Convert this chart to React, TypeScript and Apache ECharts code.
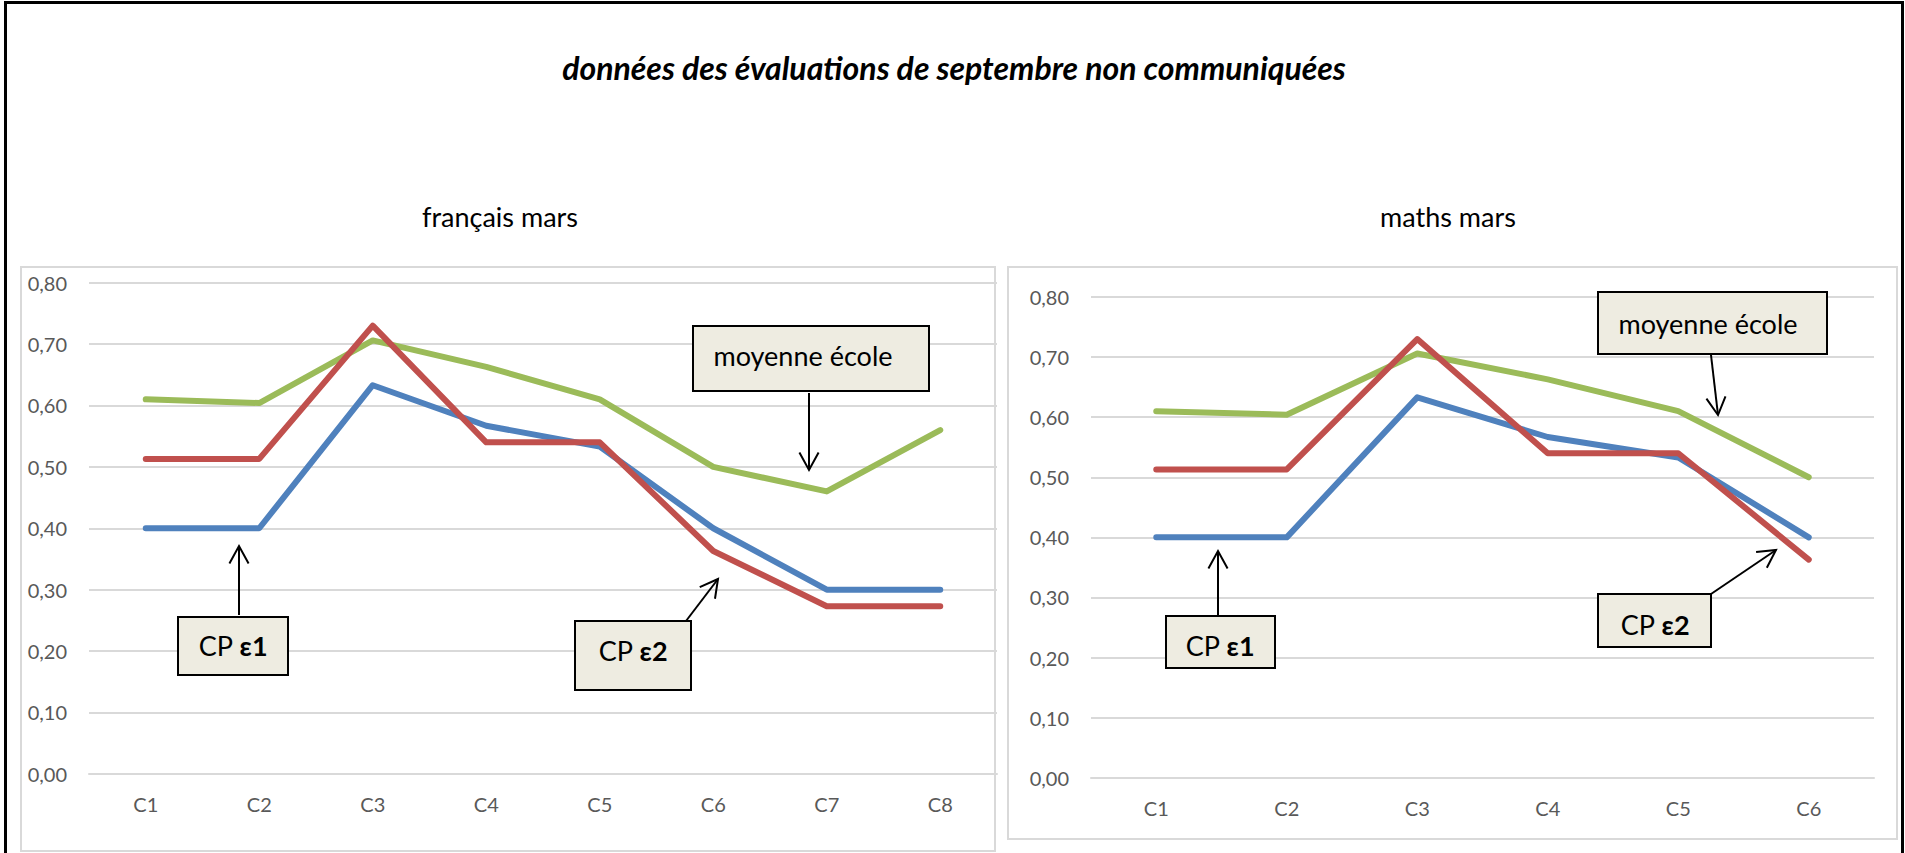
import React, { useEffect, useRef } from "react";
import * as echarts from "echarts";

const titleText = "données des évaluations de septembre non communiquées";
const subtitleFr = "français mars";
const subtitleMa = "maths mars";

const categoriesFr = ["C1", "C2", "C3", "C4", "C5", "C6", "C7", "C8"];
const frBlue = [0.4, 0.4, 0.633, 0.567, 0.533, 0.4, 0.3, 0.3];
const frRed = [0.513, 0.513, 0.73, 0.54, 0.54, 0.363, 0.273, 0.273];
const frGreen = [0.61, 0.604, 0.706, 0.663, 0.61, 0.5, 0.46, 0.56];

const categoriesMa = ["C1", "C2", "C3", "C4", "C5", "C6"];
const maBlue = [0.4, 0.4, 0.633, 0.567, 0.533, 0.4];
const maRed = [0.513, 0.513, 0.73, 0.54, 0.54, 0.363];
const maGreen = [0.61, 0.604, 0.706, 0.663, 0.61, 0.5];

const seriesNames = ["CP ε1", "CP ε2", "moyenne école"];
const colors = ["#4F81BD", "#C0504D", "#9BBB59"];

const FONT = "Lato, 'Open Sans', sans-serif";

function arrow(x1: number, y1: number, x2: number, y2: number) {
  const ang = Math.atan2(y2 - y1, x2 - x1);
  const L = 20;
  const a = 0.5;
  return [
    {
      type: "line",
      shape: { x1, y1, x2, y2 },
      style: { stroke: "#000", lineWidth: 2 },
      z: 20,
    },
    {
      type: "polyline",
      shape: {
        points: [
          [x2 - L * Math.cos(ang - a), y2 - L * Math.sin(ang - a)],
          [x2, y2],
          [x2 - L * Math.cos(ang + a), y2 - L * Math.sin(ang + a)],
        ],
      },
      style: { stroke: "#000", lineWidth: 2, fill: "none" },
      z: 20,
    },
  ];
}

function box(x: number, y: number, w: number, h: number, text: string, cx: number, cy: number) {
  return [
    {
      type: "rect",
      shape: { x, y, width: w, height: h },
      style: { fill: "#EEECE1", stroke: "#000", lineWidth: 2 },
      z: 20,
    },
    {
      type: "text",
      x: cx,
      y: cy,
      style: {
        text,
        align: "center",
        verticalAlign: "middle",
        rich: {
          n: { fontSize: 27, fontFamily: FONT, fill: "#000" },
          b: { fontSize: 27, fontFamily: FONT, fontWeight: "bold", fill: "#000" },
        },
      },
      z: 21,
    },
  ];
}

function yAxis(gridIndex: number) {
  return {
    type: "value",
    gridIndex,
    min: 0,
    max: 0.8,
    interval: 0.1,
    axisLine: { show: false },
    axisTick: { show: false },
    axisLabel: {
      color: "#595959",
      fontSize: 20,
      fontFamily: FONT,
      margin: 22,
      formatter: (v: number) => v.toFixed(2).replace(".", ","),
    },
    splitLine: { lineStyle: { color: "#D9D9D9", width: 2 } },
  };
}

function xAxis(gridIndex: number, data: string[]) {
  return {
    type: "category",
    gridIndex,
    data,
    boundaryGap: true,
    axisLine: { lineStyle: { color: "#D9D9D9", width: 2 } },
    axisTick: { show: false },
    axisLabel: { color: "#595959", fontSize: 20, fontFamily: FONT, margin: 20 },
  };
}

function lineSeries(name: string, data: number[], color: string, idx: number, z: number) {
  return {
    type: "line",
    name,
    data,
    xAxisIndex: idx,
    yAxisIndex: idx,
    showSymbol: false,
    symbol: "none",
    z,
    lineStyle: { color, width: 6, cap: "round", join: "round" },
    itemStyle: { color },
  };
}

export default function App() {
  const ref = useRef<HTMLDivElement>(null);
  useEffect(() => {
    document.body.style.margin = "0";
    const chart = echarts.init(ref.current!, undefined, { renderer: "svg" });
    const graphic: any[] = [
      {
        type: "rect",
        shape: { x: 5.5, y: 2.5, width: 1897, height: 1000 },
        style: { fill: "none", stroke: "#000", lineWidth: 3 },
        z: 0,
      },
      {
        type: "rect",
        shape: { x: 21, y: 267, width: 974, height: 584 },
        style: { fill: "none", stroke: "#D9D9D9", lineWidth: 2 },
        z: 0,
      },
      {
        type: "rect",
        shape: { x: 1008, y: 267, width: 889, height: 572 },
        style: { fill: "none", stroke: "#D9D9D9", lineWidth: 2 },
        z: 0,
      },
      {
        type: "text",
        x: 954,
        y: 67,
        style: {
          text: titleText,
          align: "center",
          verticalAlign: "middle",
          fontSize: 32,
          fontWeight: "bold",
          fontStyle: "italic",
          fontFamily: FONT,
          fill: "#000",
        },
      },
      {
        type: "text",
        x: 500,
        y: 216,
        style: {
          text: subtitleFr,
          align: "center",
          verticalAlign: "middle",
          fontSize: 27,
          fontFamily: FONT,
          fill: "#000",
        },
      },
      {
        type: "text",
        x: 1448,
        y: 216,
        style: {
          text: subtitleMa,
          align: "center",
          verticalAlign: "middle",
          fontSize: 27,
          fontFamily: FONT,
          fill: "#000",
        },
      },
      // left chart annotations
      ...box(693, 326, 236, 65, "{n|moyenne école}", 803, 355),
      ...arrow(809, 393, 809, 470),
      ...box(575, 621, 116, 69, "{n|CP }{b|ε2}", 633, 650),
      ...arrow(686, 621, 718, 579),
      ...box(178, 617, 110, 58, "{n|CP }{b|ε1}", 233, 645),
      ...arrow(239, 615, 239, 546),
      // right chart annotations
      ...box(1598, 292, 229, 62, "{n|moyenne école}", 1708, 323),
      ...arrow(1711, 355, 1718, 415),
      ...box(1598, 594, 113, 53, "{n|CP }{b|ε2}", 1655, 624),
      ...arrow(1711, 594, 1776, 550),
      ...box(1166, 616, 109, 52, "{n|CP }{b|ε1}", 1220, 645),
      ...arrow(1218, 615, 1218, 551),
    ];
    chart.setOption({
      animation: false,
      grid: [
        { left: 89, top: 282.7, width: 908, height: 491.1 },
        { left: 1091, top: 297, width: 783, height: 480.7 },
      ],
      xAxis: [xAxis(0, categoriesFr), xAxis(1, categoriesMa)],
      yAxis: [yAxis(0), yAxis(1)],
      series: [
        lineSeries(seriesNames[2], frGreen, colors[2], 0, 2),
        lineSeries(seriesNames[0], frBlue, colors[0], 0, 3),
        lineSeries(seriesNames[1], frRed, colors[1], 0, 4),
        lineSeries(seriesNames[2], maGreen, colors[2], 1, 2),
        lineSeries(seriesNames[0], maBlue, colors[0], 1, 3),
        lineSeries(seriesNames[1], maRed, colors[1], 1, 4),
      ],
      graphic,
    });
    return () => chart.dispose();
  }, []);
  return (
    <div
      ref={ref}
      style={{ position: "absolute", left: 0, top: 0, width: 1905, height: 853, background: "#fff" }}
    />
  );
}
